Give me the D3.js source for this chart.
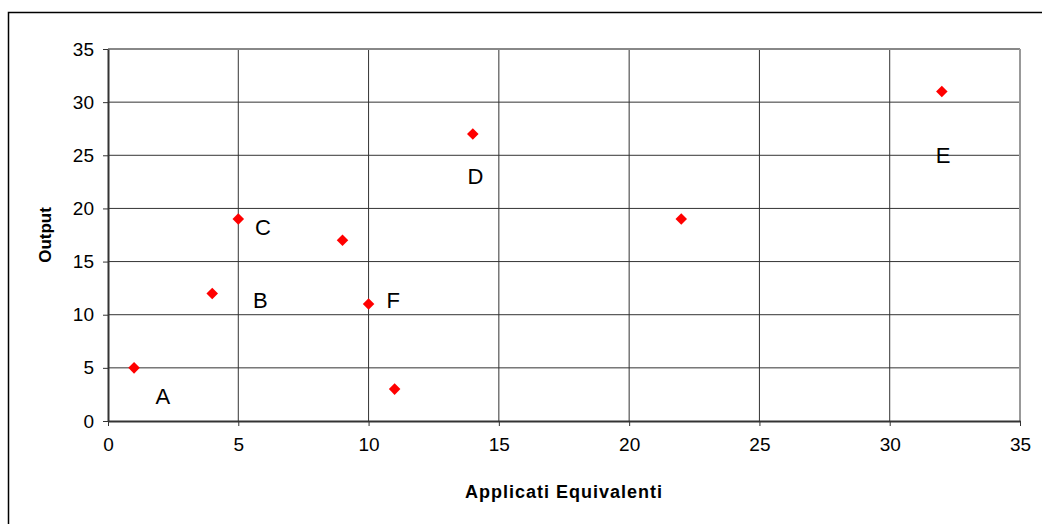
<!DOCTYPE html>
<html>
<head>
<meta charset="utf-8">
<script src="https://cdn.jsdelivr.net/npm/d3@7"></script>
<style>
  body { margin: 0; background: #fff; }
  svg { display: block; font-family: "Liberation Sans", Arial, sans-serif; }
</style>
</head>
<body>
<div id="chart"></div>
<script>
// Dati
const xValues = [1, 4, 5, 9, 10, 11, 14, 22, 32];
const yValues = [5, 12, 19, 17, 11, 3, 27, 19, 31];
const labelNames = ["A", "B", "C", "D", "E", "F"];
const labelX = [2.1, 5.85, 5.95, 14.1, 32.05, 10.95];
const labelY = [2.35, 11.4, 18.2, 23.0, 25.0, 11.4];
const ticks = [0, 5, 10, 15, 20, 25, 30, 35];

const width = 1042;
const height = 524;
const margin = { top: 49, right: 22, bottom: 103, left: 108 };

const x = d3.scaleLinear().domain([0, 35]).range([margin.left, width - margin.right]);
const y = d3.scaleLinear().domain([0, 35]).range([height - margin.bottom, margin.top]);

const svg = d3.select("#chart").append("svg")
    .attr("width", width)
    .attr("height", height);

// Cornice esterna
svg.append("rect")
    .attr("x", 8.5).attr("y", 12.5)
    .attr("width", width + 10).attr("height", height + 10)
    .attr("fill", "none").attr("stroke", "#000").attr("stroke-width", 1.5);

// Griglia
svg.append("g").selectAll("line").data(ticks.slice(1, -1)).join("line")
    .attr("x1", d => x(d)).attr("x2", d => x(d))
    .attr("y1", y(35)).attr("y2", y(0))
    .attr("stroke", "#333").attr("stroke-width", 1);
svg.append("g").selectAll("line").data(ticks.slice(1, -1)).join("line")
    .attr("x1", x(0)).attr("x2", x(35))
    .attr("y1", d => y(d)).attr("y2", d => y(d))
    .attr("stroke", "#333").attr("stroke-width", 1);

// Bordo area del grafico
svg.append("line")
    .attr("x1", x(0)).attr("x2", x(35)).attr("y1", y(35)).attr("y2", y(35))
    .attr("stroke", "#888").attr("stroke-width", 2);
svg.append("line")
    .attr("x1", x(35)).attr("x2", x(35)).attr("y1", y(35)).attr("y2", y(0))
    .attr("stroke", "#999").attr("stroke-width", 2);

// Assi
const xAxis = svg.append("g")
    .attr("transform", `translate(0,${y(0)})`)
    .call(d3.axisBottom(x).tickValues(ticks).tickSize(5).tickSizeOuter(0));
const yAxis = svg.append("g")
    .attr("transform", `translate(${x(0)},0)`)
    .call(d3.axisLeft(y).tickValues(ticks).tickSize(5).tickSizeOuter(0));

[xAxis, yAxis].forEach(g => {
    g.select(".domain").attr("stroke", "#333").attr("stroke-width", 2);
    g.selectAll(".tick line").attr("stroke", "#333");
    g.selectAll(".tick text")
        .attr("font-size", "19px")
        .attr("fill", "#000")
        .attr("font-family", "Liberation Sans, Arial, sans-serif");
});
xAxis.selectAll(".tick text").attr("y", 30).attr("dy", "0");
yAxis.selectAll(".tick text").attr("x", -14);

// Titoli assi
svg.append("text")
    .attr("x", x(17.5)).attr("y", 498)
    .attr("text-anchor", "middle")
    .attr("font-size", "18px").attr("font-weight", "bold")
    .attr("letter-spacing", "1px")
    .text("Applicati Equivalenti");
svg.append("text")
    .attr("transform", `translate(51,${y(17.5)}) rotate(-90)`)
    .attr("text-anchor", "middle")
    .attr("font-size", "17px").attr("font-weight", "bold")
    .text("Output");

// Punti
const diamond = d3.symbol().type(d3.symbolDiamond2).size(85);
svg.append("g").selectAll("path")
    .data(xValues.map((d, i) => [d, yValues[i]]))
    .join("path")
    .attr("transform", d => `translate(${x(d[0])},${y(d[1])})`)
    .attr("d", diamond)
    .attr("fill", "#ff0000");

// Etichette
svg.append("g").selectAll("text")
    .data(labelNames)
    .join("text")
    .attr("x", (d, i) => x(labelX[i]))
    .attr("y", (d, i) => y(labelY[i]))
    .attr("dy", "0.36em")
    .attr("text-anchor", "middle")
    .attr("font-size", "22px")
    .text(d => d);
</script>
</body>
</html>
